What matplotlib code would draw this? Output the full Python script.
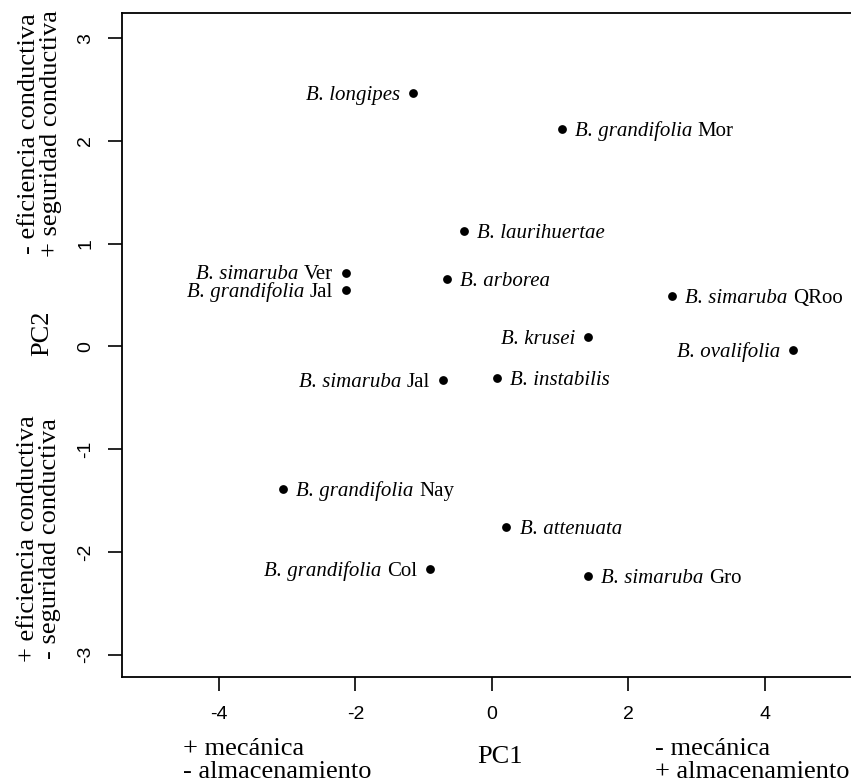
import matplotlib
matplotlib.use('Agg')
import matplotlib.pyplot as plt
from matplotlib.transforms import offset_copy

plt.rcParams['font.family'] = ['Liberation Serif', 'DejaVu Serif']
plt.rcParams['axes.unicode_minus'] = False

# ---- data ----
species = ['B. longipes', 'B. grandifolia', 'B. laurihuertae', 'B. simaruba',
           'B. grandifolia', 'B. arborea', 'B. simaruba', 'B. krusei',
           'B. ovalifolia', 'B. simaruba', 'B. instabilis', 'B. grandifolia',
           'B. attenuata', 'B. grandifolia', 'B. simaruba']
locality = ['', 'Mor', '', 'Ver', 'Jal', '', 'QRoo', '', '', 'Jal', '', 'Nay',
            '', 'Col', 'Gro']
pc1 = [-1.15, 1.02, -0.41, -2.14, -2.14, -0.66, 2.64, 1.41, 4.41, -0.72,
       0.07, -3.06, 0.21, -0.91, 1.41]
pc2 = [2.47, 2.12, 1.12, 0.72, 0.55, 0.66, 0.49, 0.09, -0.03, -0.33,
       -0.31, -1.39, -1.76, -2.17, -2.23]
label_left = [True, False, False, True, True, False, False, True, True, True,
              False, False, False, True, False]

x_ticks = [-4, -2, 0, 2, 4]
y_ticks = [-3, -2, -1, 0, 1, 2, 3]
x_label = 'PC1'
y_label = 'PC2'
x_low = ['+ mecánica', '- almacenamiento']
x_high = ['- mecánica', '+ almacenamiento']
y_high = ['- eficiencia conductiva', '+ seguridad conductiva']
y_low = ['+ eficiencia conductiva', '- seguridad conductiva']

# ---- figure ----
W, H = 851, 783
fig = plt.figure(figsize=(W / 100, H / 100), dpi=100)
ax = fig.add_axes([122 / W, 1 - 677 / H, (878 - 122) / W, (677 - 13) / H])

ax.scatter(pc1, pc2, s=40, color='black', zorder=3, linewidths=0)

ax.set_xlim(-5.421, 5.656)
ax.set_ylim(-3.217, 3.246)
ax.set_xticks(x_ticks)
ax.set_yticks(y_ticks)
ax.set_xticklabels([str(v) for v in x_ticks], fontfamily='Liberation Sans', fontsize=14)
ax.set_yticklabels([str(v) for v in y_ticks], fontfamily='Liberation Sans', fontsize=14,
                   rotation=90, va='center')
ax.tick_params(axis='x', direction='out', length=10, width=1.2, pad=11)
ax.tick_params(axis='y', direction='out', length=10, width=1.2, pad=10)
for s in ax.spines.values():
    s.set_linewidth(1.3)

renderer = fig.canvas.get_renderer()
FS = 15
GAP = 9.5        # points from dot centre to label
SPACE = 0.25 * FS  # word space in points
for sp, loc, x, y, left in zip(species, locality, pc1, pc2, label_left):
    if left:
        first_txt, first_style, second_txt, second_style = loc, 'normal', sp, 'italic'
        sign = -1
        ha = 'right'
    else:
        first_txt, first_style, second_txt, second_style = sp, 'italic', loc, 'normal'
        sign = 1
        ha = 'left'
    if not first_txt:
        first_txt, first_style, second_txt, second_style = second_txt, second_style, '', 'normal'
    tr = offset_copy(ax.transData, fig=fig, x=sign * GAP, y=-5.0, units='points')
    t1 = ax.text(x, y, first_txt, transform=tr, ha=ha, va='baseline',
                 fontsize=FS, fontstyle=first_style)
    if second_txt:
        bb = t1.get_window_extent(renderer=renderer)
        w_pt = bb.width * 72 / fig.dpi
        tr2 = offset_copy(ax.transData, fig=fig,
                          x=sign * (GAP + w_pt + SPACE), y=-5.0, units='points')
        ax.text(x, y, second_txt, transform=tr2, ha=ha, va='baseline',
                fontsize=FS, fontstyle=second_style)


def ft(px, py, s, **kw):
    fig.text(px / W, 1 - py / H, s, fontsize=19, **kw)


ft(183, 755, x_low[0], ha='left', va='baseline')
ft(183, 778, x_low[1], ha='left', va='baseline')
ft(655, 755, x_high[0], ha='left', va='baseline')
ft(655, 778, x_high[1], ha='left', va='baseline')
ft(500, 763, x_label, ha='center', va='baseline')

rot = dict(rotation=90, rotation_mode='anchor', ha='center', va='baseline')
ft(48, 333, y_label, **rot)
ft(35, 134, y_high[0], **rot)
ft(57, 134, y_high[1], **rot)
ft(34, 539, y_low[0], **rot)
ft(56, 539, y_low[1], **rot)

fig.savefig('out.png', dpi=100)
